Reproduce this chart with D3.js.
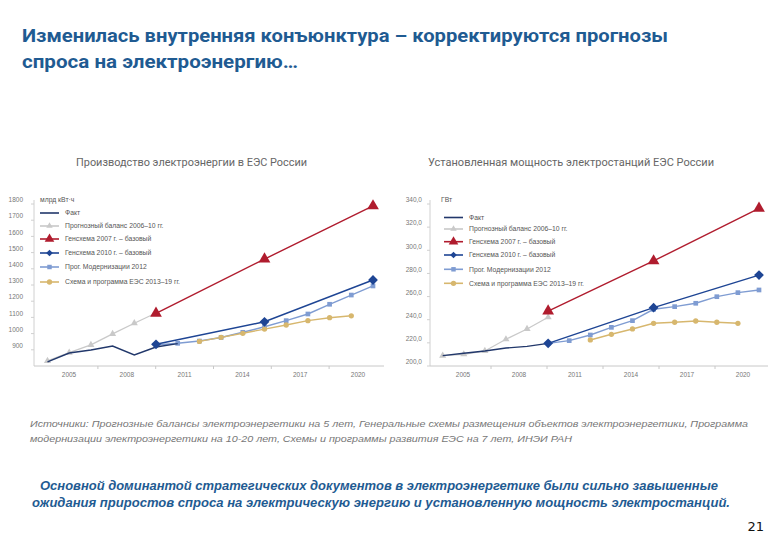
<!DOCTYPE html>
<html><head><meta charset="utf-8">
<script src="https://cdn.jsdelivr.net/npm/d3@7"></script>
<style>
body{margin:0;background:#fff;}
svg{display:block;}
</style></head>
<body>
<svg id="c" width="780" height="540"></svg>
<script>
// ---------- DATA ----------
const seriesNames = ["Факт","Прогнозный баланс 2006–10 гг.","Генсхема 2007 г. – базовый","Генсхема 2010 г. – базовый","Прог. Модернизации 2012","Схема и программа ЕЭС 2013–19 гг."];
const xTickLabels = ["2005","2008","2011","2014","2017","2020"];

// Production, bn kWh
const prodYears = {
  fact:[2005,2006,2007,2008,2009,2010,2011],
  balance:[2005,2006,2007,2008,2009,2010],
  gen2007:[2010,2015,2020],
  gen2010:[2010,2015,2020],
  mod2012:[2010,2011,2012,2013,2014,2015,2016,2017,2018,2019,2020],
  scheme:[2012,2013,2014,2015,2016,2017,2018,2019]
};
const prodFact    = [826,880,899,923,868,917,938];
const prodBalance = [831,882,930,998,1064,1127];
const prodGen2007 = [1125,1460,1788];
const prodGen2010 = [934,1073,1331];
const prodMod2012 = [930,940,954,976,1008,1042,1080,1121,1181,1238,1294];
const prodScheme  = [952,977,1002,1028,1053,1080,1098,1110];
const prodTicks   = [900,1000,1100,1200,1300,1400,1500,1600,1700,1800];

// Installed capacity, GW
const capYears = {
  fact:[2005,2006,2007,2008,2009,2010],
  balance:[2005,2006,2007,2008,2009,2010],
  gen2007:[2010,2015,2020],
  gen2010:[2010,2015,2020],
  mod2012:[2010,2011,2012,2013,2014,2015,2016,2017,2018,2019,2020],
  scheme:[2012,2013,2014,2015,2016,2017,2018,2019]
};
const capFact    = [209,211,213,215.5,217,219.6];
const capBalance = [208.9,210.1,213,223.1,232,242.1];
const capGen2007 = [247.5,290.8,336.3];
const capGen2010 = [219.6,250.4,278.6];
const capMod2012 = [219.6,221.9,226.8,233.4,239.2,249,251.3,254.2,259.9,263.4,265.7];
const capScheme  = [222.5,227.4,232,236.9,237.8,238.9,237.8,236.9];
const capTicks   = [200,220,240,260,280,300,320,340];

// ---------- STYLE ----------
const colors = ["#22386b","#c9c9c9","#b01c2e","#1e4594","#7f9cd2","#d7b76e"];
const markers = [null,"triangle","triangle","diamond","square","circle"];
const keys = ["fact","balance","gen2007","gen2010","mod2012","scheme"];

const svg = d3.select("#c");
const blue = "#1f5b92";

// Title
svg.append("text").attr("x",22).attr("y",42)
  .attr("font-family","'Liberation Sans Narrow','Roboto','Open Sans',sans-serif")
  .attr("font-weight","bold").attr("font-size",19).attr("fill",blue)
  .attr("textLength",646).attr("lengthAdjust","spacingAndGlyphs")
  .text("Изменилась внутренняя конъюнктура – корректируются прогнозы");
svg.append("text").attr("x",22).attr("y",68)
  .attr("font-family","'Liberation Sans Narrow','Roboto','Open Sans',sans-serif")
  .attr("font-weight","bold").attr("font-size",19).attr("fill",blue)
  .attr("textLength",276).attr("lengthAdjust","spacingAndGlyphs")
  .text("спроса на электроэнергию…");

// Chart subtitles
svg.append("text").attr("x",76).attr("y",166)
  .attr("font-family","'Liberation Sans Narrow','Roboto',sans-serif").attr("font-size",10).attr("fill","#666")
  .attr("textLength",231).attr("lengthAdjust","spacingAndGlyphs")
  .text("Производство электроэнергии в ЕЭС России");
svg.append("text").attr("x",428).attr("y",166)
  .attr("font-family","'Liberation Sans Narrow','Roboto',sans-serif").attr("font-size",10).attr("fill","#666")
  .attr("textLength",286).attr("lengthAdjust","spacingAndGlyphs")
  .text("Установленная мощность электростанций ЕЭС России");

function symbolFor(m, size){
  const t = {triangle:d3.symbolTriangle, diamond:d3.symbolSquare, square:d3.symbolSquare, circle:d3.symbolCircle}[m];
  return d3.symbol().type(t).size(size)();
}
function rot(m){ return m==="diamond" ? " rotate(45)" : ""; }

function drawChart(opt){
  const g = svg.append("g");
  const x = d3.scaleLinear().domain([2005,2020]).range(opt.xRange);
  const y = d3.scaleLinear().domain(opt.yDomain).range([366,204]);
  const xl = d3.scalePoint().domain(xTickLabels).range(opt.labelRange);

  // axes lines
  g.append("line").attr("x1",opt.axisX).attr("x2",opt.axisX).attr("y1",200).attr("y2",366).attr("stroke","#d0d0d0");
  g.append("line").attr("x1",opt.axisX).attr("x2",opt.xEnd).attr("y1",366).attr("y2",366).attr("stroke","#c8c8c8");
  // y ticks + labels
  const yt = g.selectAll(".yt").data(opt.ticks).enter();
  yt.append("line").attr("x1",opt.axisX-3).attr("x2",opt.axisX).attr("y1",d=>y(d)).attr("y2",d=>y(d)).attr("stroke","#d0d0d0");
  yt.append("text").attr("x",opt.labelX).attr("y",d=>y(d)-4).attr("dy","0.35em")
    .attr("text-anchor","end").attr("font-family","'Liberation Sans','Noto Sans',sans-serif").attr("font-size",6.5).attr("fill","#777")
    .text(d=>opt.fmt(d));
  // x labels
  g.selectAll(".xl").data(xTickLabels).enter().append("text")
    .attr("x",d=>xl(d)).attr("y",377).attr("text-anchor","middle")
    .attr("font-family","'Liberation Sans','Noto Sans',sans-serif").attr("font-size",6.5).attr("fill","#777").text(d=>d);
  // x ticks between labels
  const step = (opt.labelRange[1]-opt.labelRange[0])/(xTickLabels.length-1);
  g.selectAll(".xt").data(d3.range(xTickLabels.length-1)).enter().append("line")
    .attr("x1",i=>opt.labelRange[0]+step*(i+0.5)).attr("x2",i=>opt.labelRange[0]+step*(i+0.5))
    .attr("y1",366).attr("y2",369).attr("stroke","#c8c8c8");

  // series
  const order = [1,4,5,0,3,2];
  order.forEach(i=>{
    const k = keys[i];
    const pts = opt.years[k].map((yr,j)=>[x(yr), y(opt.values[i][j])]);
    g.append("path").attr("d",d3.line()(pts)).attr("fill","none")
      .attr("stroke",colors[i]).attr("stroke-width", i===1?1.3:1.4);
    if(markers[i]){
      const size = {triangle: i===2?60:22, diamond:48, square:22, circle:22}[markers[i]];
      g.selectAll(".m"+i).data(pts).enter().append("path")
        .attr("transform",d=>`translate(${d[0]},${d[1]})${rot(markers[i])}`)
        .attr("d",symbolFor(markers[i], size)).attr("fill",colors[i]);
    }
  });

  // unit label
  g.append("text").attr("x",opt.unitX).attr("y",202).attr("font-family","'Liberation Sans','Noto Sans',sans-serif")
    .attr("font-size",6.8).attr("fill","#555").text(opt.unit);
  // legend
  seriesNames.forEach((nm,i)=>{
    const ly = opt.legY[i];
    g.append("line").attr("x1",opt.legX).attr("x2",opt.legX+19).attr("y1",ly).attr("y2",ly)
      .attr("stroke",colors[i]).attr("stroke-width",1.6);
    if(markers[i]){
      const size = {triangle: i===2?40:18, diamond:22, square:20, circle:22}[markers[i]];
      g.append("path").attr("transform",`translate(${opt.legX+9.5},${ly})${rot(markers[i])}`).attr("d",symbolFor(markers[i],size)).attr("fill",colors[i]);
    }
    g.append("text").attr("x",opt.legX+25).attr("y",ly).attr("dy","0.35em")
      .attr("font-family","'Liberation Sans','Noto Sans',sans-serif").attr("font-size",6.8).attr("fill","#555").text(nm);
  });
}

drawChart({
  xRange:[47.5,373], yDomain:[800,1800], labelRange:[69,358], axisX:34, xEnd:384, labelX:23,
  ticks:prodTicks, fmt:d=>String(d), years:prodYears,
  values:[prodFact,prodBalance,prodGen2007,prodGen2010,prodMod2012,prodScheme],
  unit:"млрд кВт·ч", unitX:40, legX:40, legY:[213,226,239,253,267,282]
});
drawChart({
  xRange:[442.7,759], yDomain:[200,340], labelRange:[463,743], axisX:430, xEnd:768, labelX:422,
  ticks:capTicks, fmt:d=>d.toFixed(1).replace(".",","), years:capYears,
  values:[capFact,capBalance,capGen2007,capGen2010,capMod2012,capScheme],
  unit:"ГВт", unitX:441, legX:444, legY:[217.5,229,241.7,255,269.3,283.3]
});

// Sources
const srcFont = "'Liberation Sans','Noto Sans',sans-serif";
svg.append("text").attr("x",30).attr("y",427).attr("font-family",srcFont).attr("font-style","italic")
  .attr("font-size",9).attr("fill","#777").attr("textLength",718).attr("lengthAdjust","spacingAndGlyphs")
  .text("Источники: Прогнозные балансы электроэнергетики на 5 лет, Генеральные схемы размещения объектов электроэнергетики, Программа");
svg.append("text").attr("x",30).attr("y",442).attr("font-family",srcFont).attr("font-style","italic")
  .attr("font-size",9).attr("fill","#777").attr("textLength",542).attr("lengthAdjust","spacingAndGlyphs")
  .text("модернизации электроэнергетики на 10-20 лет, Схемы и программы развития ЕЭС на 7 лет, ИНЭИ РАН");

// Conclusion
svg.append("text").attr("x",40).attr("y",490).attr("font-family",srcFont).attr("font-style","italic").attr("font-weight","bold")
  .attr("font-size",12).attr("fill",blue).attr("textLength",678).attr("lengthAdjust","spacingAndGlyphs")
  .text("Основной доминантой стратегических документов в электроэнергетике были сильно завышенные");
svg.append("text").attr("x",32).attr("y",507).attr("font-family",srcFont).attr("font-style","italic").attr("font-weight","bold")
  .attr("font-size",12).attr("fill",blue).attr("textLength",698).attr("lengthAdjust","spacingAndGlyphs")
  .text("ожидания приростов спроса на электрическую энергию и установленную мощность электростанций.");

svg.append("text").attr("x",764).attr("y",531).attr("text-anchor","end").attr("font-family","'DejaVu Sans',sans-serif")
  .attr("font-size",13).attr("fill","#111").text("21");
</script>
</body></html>
